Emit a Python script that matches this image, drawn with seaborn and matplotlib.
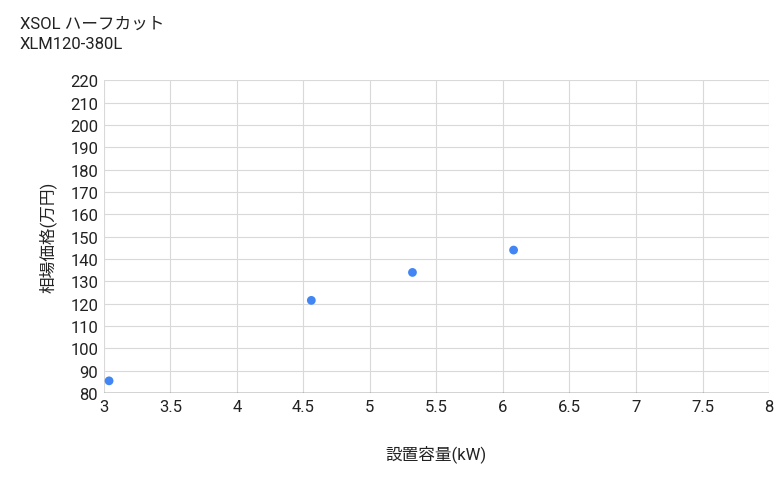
import matplotlib
matplotlib.use("Agg")
import matplotlib.pyplot as plt
import seaborn as sns
import pandas as pd

capacity_kw = [3.04, 4.56, 5.32, 6.08]
price_man_yen = [85.5, 121.5, 134, 144]
title_lines = ["XSOL ハーフカット", "XLM120-380L"]

sns.set_theme(style="whitegrid")
plt.rcParams["font.family"] = ["Roboto", "Noto Sans CJK JP", "DejaVu Sans"]

df = pd.DataFrame({"x": capacity_kw, "y": price_man_yen})
fig = plt.figure(figsize=(7.8, 4.89), dpi=100)
ax = fig.add_axes([0.133, 0.194, 0.853, 0.640])
sns.scatterplot(data=df, x="x", y="y", ax=ax, color="#4285f4", s=40, edgecolor="none", clip_on=False)

ax.set_xlim(3, 8)
ax.set_ylim(80, 220)
ax.set_xticks([3 + 0.5 * i for i in range(11)])
ax.set_xticklabels([f"{3 + 0.5 * i:g}" for i in range(11)])
ax.set_yticks(range(80, 221, 10))
ax.grid(color="#d9d9d9", lw=0.8)
for s in ax.spines.values():
    s.set_visible(False)
ax.axhline(80, color="#333333", lw=1)
ax.tick_params(length=0, labelsize=12, colors="#222222", pad=4)
ax.set_xlabel("設置容量(kW)", fontsize=12, labelpad=22, color="#222222")
ax.set_ylabel("相場価格(万円)", fontsize=12, labelpad=10, color="#222222")
fig.text(0.025, 0.965, title_lines[0], fontsize=12, color="#222222", va="top")
fig.text(0.025, 0.925, title_lines[1], fontsize=12, color="#222222", va="top")
fig.savefig("out.png", dpi=100)
